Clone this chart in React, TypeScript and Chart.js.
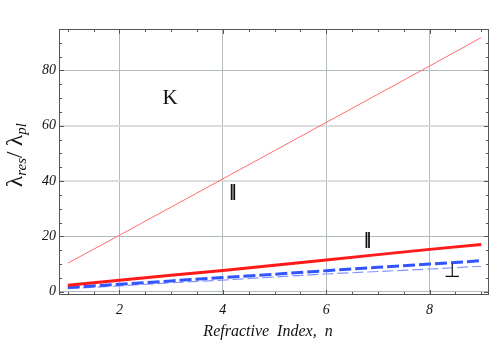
import React, { useEffect, useRef } from "react";
import { Chart, registerables } from "chart.js";

Chart.register(...registerables);

// ---- data ----
const refractiveIndex = [1, 2, 3, 4, 5, 6, 7, 8, 9];
const parallelK = [10.3, 20.4, 30.6, 40.8, 51.0, 61.2, 71.4, 81.6, 91.9];
const parallelThick = [2.3, 4.1, 5.9, 7.7, 9.6, 11.5, 13.4, 15.3, 17.1];
const perpThick = [1.5, 2.7, 3.9, 5.1, 6.3, 7.6, 8.8, 10.0, 11.2];
const perpThin = [1.1, 2.1, 3.2, 4.2, 5.3, 6.4, 7.3, 8.2, 9.2];

const xTickLabels = [2, 4, 6, 8];
const yTickLabels = [0, 20, 40, 60, 80];
const xTickMarks = [1, 1.5, 2, 2.5, 3, 3.5, 4, 4.5, 5, 5.5, 6, 6.5, 7, 7.5, 8, 8.5, 9];
const yTickMarks = [0, 5, 10, 15, 20, 25, 30, 35, 40, 45, 50, 55, 60, 65, 70, 75, 80, 85, 90];

const annotationTexts = ["K", "\u2016", "\u2016", "\u22A5"];
const annotationX = [2.98, 4.19, 6.8, 8.45];
const annotationY = [69.7, 36.0, 18.9, 7.2];
const annotationFont = [
  '21px "Liberation Serif"',
  'bold 16px "DejaVu Sans"',
  'bold 16px "DejaVu Sans"',
  '19px "Liberation Serif"',
];

const X_MIN = 0.83;
const X_MAX = 9.15;
const Y_MIN = -1.2;
const Y_MAX = 95;

const toPoints = (ys: number[]) => refractiveIndex.map((x, i) => ({ x, y: ys[i] }));

const framePlugin = {
  id: "frameTicks",
  afterDraw(chart: any) {
    const { ctx, chartArea: a, scales } = chart;
    const xs = scales.x;
    const ys = scales.y;
    ctx.save();
    ctx.strokeStyle = "#555";
    ctx.lineWidth = 1;
    ctx.strokeRect(a.left + 0.5, a.top + 0.5, a.right - a.left - 1, a.bottom - a.top - 1);
    ctx.beginPath();
    for (const v of xTickMarks) {
      const px = Math.round(xs.getPixelForValue(v)) + 0.5;
      const len = v % 2 === 0 ? 5 : 3;
      ctx.moveTo(px, a.bottom);
      ctx.lineTo(px, a.bottom - len);
      ctx.moveTo(px, a.top);
      ctx.lineTo(px, a.top + len);
    }
    for (const v of yTickMarks) {
      const py = Math.round(ys.getPixelForValue(v)) + 0.5;
      const len = v % 20 === 0 ? 5 : 3;
      ctx.moveTo(a.left, py);
      ctx.lineTo(a.left + len, py);
      ctx.moveTo(a.right, py);
      ctx.lineTo(a.right - len, py);
    }
    ctx.stroke();

    // annotations
    ctx.fillStyle = "#111";
    ctx.textAlign = "center";
    ctx.textBaseline = "middle";
    annotationTexts.forEach((t, i) => {
      ctx.font = annotationFont[i];
      ctx.fillText(t, xs.getPixelForValue(annotationX[i]), ys.getPixelForValue(annotationY[i]));
    });

    // x axis title
    ctx.font = 'italic 16px "Liberation Serif"';
    ctx.fillText("Refractive  Index,  n", 268, 332);

    // y axis title (rotated)
    ctx.translate(22, 155);
    ctx.rotate(-Math.PI / 2);
    const parts: [string, string, number][] = [
      ["\u03BB", '23px "Liberation Serif"', 0],
      ["res", 'italic 15px "Liberation Serif"', 4],
      ["/ ", '23px "Liberation Serif"', 0],
      ["\u03BB", '23px "Liberation Serif"', 0],
      ["pl", 'italic 15px "Liberation Serif"', 4],
    ];
    let total = 0;
    for (const [t, f] of parts) {
      ctx.font = f;
      total += ctx.measureText(t).width;
    }
    let cx = -total / 2;
    ctx.textAlign = "left";
    ctx.textBaseline = "alphabetic";
    for (const [t, f, dy] of parts) {
      ctx.font = f;
      ctx.fillText(t, cx, dy);
      cx += ctx.measureText(t).width;
    }
    ctx.restore();
  },
};

export default function App() {
  const ref = useRef<HTMLCanvasElement | null>(null);
  useEffect(() => {
    if (!ref.current) return;
    const chart = new Chart(ref.current, {
      type: "line",
      data: {
        datasets: [
          {
            data: toPoints(parallelK),
            borderColor: "#ff6b6b",
            borderWidth: 1,
            pointRadius: 0,
          },
          {
            data: toPoints(parallelThick),
            borderColor: "#ff1a1a",
            borderWidth: 3,
            pointRadius: 0,
          },
          {
            data: toPoints(perpThick),
            borderColor: "#3355ff",
            borderWidth: 3,
            borderDash: [12, 4],
            pointRadius: 0,
          },
          {
            data: toPoints(perpThin),
            borderColor: "#8394ff",
            borderWidth: 1.2,
            borderDash: [11, 4],
            pointRadius: 0,
          },
        ],
      },
      options: {
        animation: false,
        responsive: false,
        devicePixelRatio: 1,
        layout: { padding: { top: 29, right: 1, left: 0, bottom: 0 } },
        plugins: { legend: { display: false }, tooltip: { enabled: false } },
        scales: {
          x: {
            type: "linear",
            min: X_MIN,
            max: X_MAX,
            afterFit: (s: any) => {
              s.height = 49;
            },
            afterBuildTicks: (s: any) => {
              s.ticks = xTickLabels.map((v) => ({ value: v }));
            },
            grid: { drawTicks: false, color: "#b3bcbc", lineWidth: 1 },
            border: { display: false },
            ticks: {
              padding: 7,
              color: "#111",
              font: { family: "Liberation Serif", style: "italic", size: 14 },
              callback: (v: any) => String(v),
            },
          },
          y: {
            type: "linear",
            min: Y_MIN,
            max: Y_MAX,
            afterFit: (s: any) => {
              s.width = 59;
            },
            afterBuildTicks: (s: any) => {
              s.ticks = yTickLabels.map((v) => ({ value: v }));
            },
            grid: {
              drawTicks: false,
              color: (c: any) => (c.tick && (c.tick.value === 40 || c.tick.value === 60) ? "#dcdcdc" : "#b3bcbc"),
              lineWidth: (c: any) => (c.tick && (c.tick.value === 40 || c.tick.value === 60) ? 2 : 1),
            },
            border: { display: false },
            ticks: {
              padding: 3,
              color: "#111",
              font: { family: "Liberation Serif", style: "italic", size: 14 },
              callback: (v: any) => String(v),
            },
          },
        },
      },
      plugins: [framePlugin],
    });
    return () => chart.destroy();
  }, []);
  return (
    <div style={{ position: "fixed", left: 0, top: 0, width: 490, height: 344, background: "#fff" }}>
      <canvas ref={ref} width={490} height={344} />
    </div>
  );
}
